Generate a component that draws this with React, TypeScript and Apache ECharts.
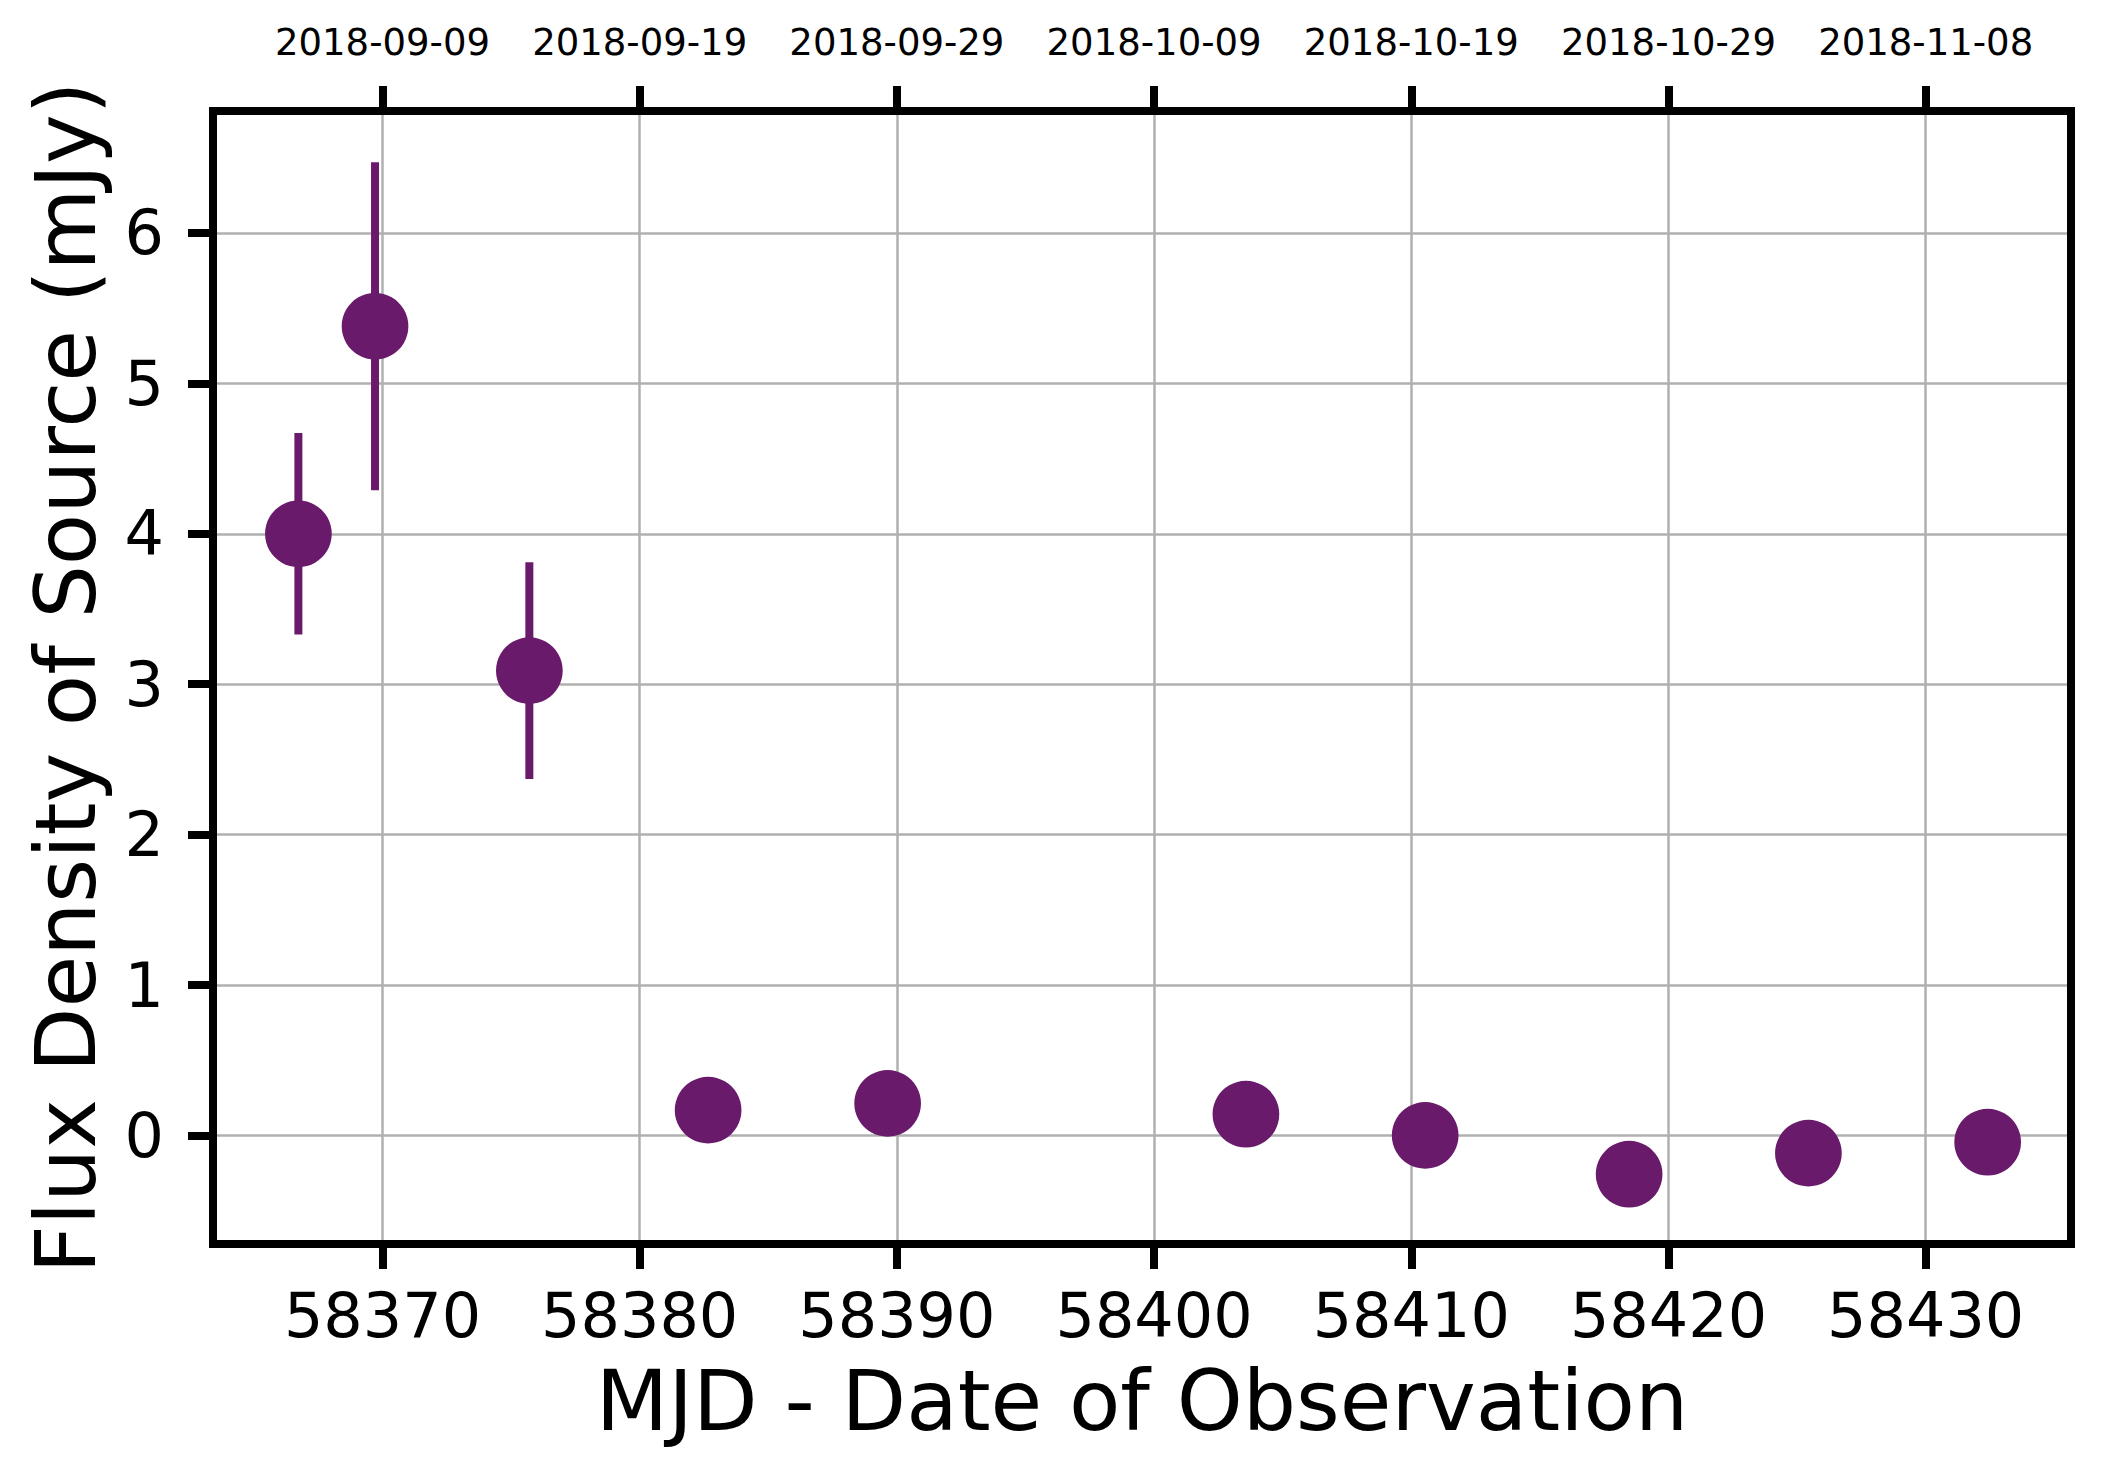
import React, { useEffect, useRef } from "react";
import * as echarts from "echarts";

// ---- data ----
const mjd = [58366.73, 58369.71, 58375.71, 58382.66, 58389.64, 58403.57, 58410.54, 58418.47, 58425.44, 58432.41];
const flux = [4.0, 5.38, 3.09, 0.168, 0.213, 0.141, 0.0, -0.258, -0.118, -0.045];
const fluxErr = [0.67, 1.09, 0.72, 0.12, 0.12, 0.12, 0.12, 0.12, 0.12, 0.12];

const xTicks = [58370, 58380, 58390, 58400, 58410, 58420, 58430];
const dateLabels = ["2018-09-09", "2018-09-19", "2018-09-29", "2018-10-09", "2018-10-19", "2018-10-29", "2018-11-08"];
const yTicks = [0, 1, 2, 3, 4, 5, 6];

const X_MIN = 58363.41;
const X_MAX = 58435.65;
const Y_MIN = -0.722;
const Y_MAX = 6.811;

const PURPLE = "#6a1a6b";
const FONT = "DejaVu Sans";

const GRID = { left: 213, top: 111, width: 1858, height: 1133 };

export default function App() {
  const ref = useRef<HTMLDivElement>(null);

  useEffect(() => {
    if (!ref.current) return;
    const chart = echarts.init(ref.current, undefined, { renderer: "svg" });

    const tickStyle = { show: true, length: 25, inside: false, lineStyle: { color: "#000", width: 8 } };

    const option: any = {
      animation: false,
      backgroundColor: "#ffffff",
      grid: { ...GRID, containLabel: false },
      graphic: [
        {
          type: "rect",
          z: 50,
          silent: true,
          shape: { x: GRID.left, y: GRID.top, width: GRID.width, height: GRID.height },
          style: { fill: "none", stroke: "#000", lineWidth: 8 },
        },
      ],
      xAxis: [
        {
          type: "value",
          position: "bottom",
          min: X_MIN,
          max: X_MAX,
          name: "MJD - Date of Observation",
          nameLocation: "middle",
          nameGap: 115,
          nameTextStyle: { fontFamily: FONT, fontSize: 84, color: "#000" },
          axisLine: { show: false, onZero: false },
          axisTick: { ...tickStyle, customValues: xTicks },
          axisLabel: {
            customValues: xTicks,
            fontFamily: FONT,
            fontSize: 62,
            color: "#000",
            margin: 40,
            formatter: (v: number) => String(Math.round(v)),
          },
          splitLine: { show: true, lineStyle: { color: "#b0b0b0", width: 2.5 } },
        },
        {
          type: "value",
          position: "top",
          min: X_MIN,
          max: X_MAX,
          axisLine: { show: false, onZero: false },
          axisTick: { ...tickStyle, customValues: xTicks },
          axisLabel: {
            customValues: xTicks,
            fontFamily: FONT,
            fontSize: 37,
            color: "#000",
            margin: 50,
            formatter: (v: number) => {
              const i = xTicks.indexOf(Math.round(v));
              return i >= 0 ? dateLabels[i] : "";
            },
          },
          splitLine: { show: false },
        },
      ],
      yAxis: {
        type: "value",
        min: Y_MIN,
        max: Y_MAX,
        name: "Flux Density of Source (mJy)",
        nameLocation: "middle",
        nameGap: 105,
        nameTextStyle: { fontFamily: FONT, fontSize: 84, color: "#000" },
        axisLine: { show: false, onZero: false },
        axisTick: { ...tickStyle, customValues: yTicks },
        axisLabel: {
          customValues: yTicks,
          fontFamily: FONT,
          fontSize: 62,
          color: "#000",
          margin: 49,
          formatter: (v: number) => String(Math.round(v)),
        },
        splitLine: { show: true, lineStyle: { color: "#b0b0b0", width: 2.5 } },
      },
      series: [
        {
          type: "custom",
          xAxisIndex: 0,
          yAxisIndex: 0,
          z: 3,
          data: mjd.map((m, i) => [m, flux[i] - fluxErr[i], flux[i] + fluxErr[i]]),
          encode: { x: 0, y: [1, 2] },
          renderItem: (params: any, api: any) => {
            const x = api.value(0);
            const p1 = api.coord([x, api.value(1)]);
            const p2 = api.coord([x, api.value(2)]);
            return {
              type: "line",
              shape: { x1: p1[0], y1: p1[1], x2: p2[0], y2: p2[1] },
              style: { stroke: PURPLE, lineWidth: 8 },
            };
          },
        },
        {
          type: "scatter",
          xAxisIndex: 0,
          yAxisIndex: 0,
          z: 4,
          symbol: "circle",
          symbolSize: 66.7,
          itemStyle: { color: PURPLE, opacity: 1 },
          data: mjd.map((m, i) => [m, flux[i]]),
        },
      ],
    };

    chart.setOption(option);
    return () => chart.dispose();
  }, []);

  return (
    <div
      ref={ref}
      style={{ position: "absolute", left: 0, top: 0, width: 2103, height: 1477, background: "#fff" }}
    />
  );
}
